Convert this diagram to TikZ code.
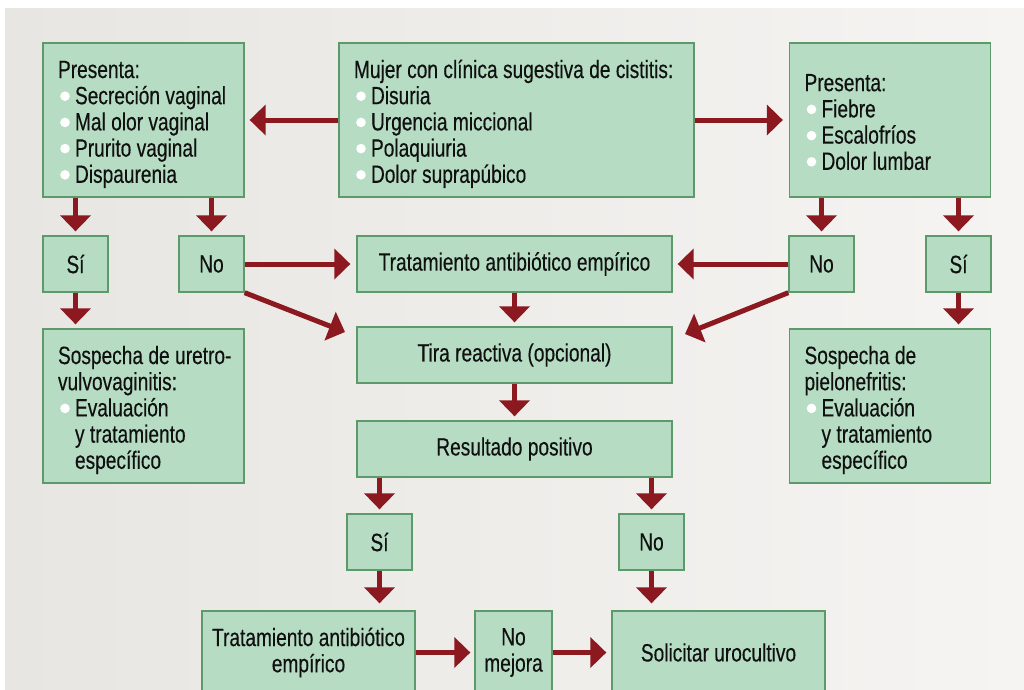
\documentclass[tikz,border=0pt]{standalone}
\usepackage{fontspec}
\setmainfont{Liberation Sans}[FakeStretch=0.765, FakeBold=0.3]
\usepackage{xcolor}
\usepackage{tikz}
\usetikzlibrary{
  arrows.meta,
  positioning
}
\definecolor{boxfill}{HTML}{B6DDC3}
\definecolor{boxline}{HTML}{5C9A6B}
\definecolor{arrowred}{HTML}{8C1820}
\definecolor{bgleft}{HTML}{E7E6E2}
\definecolor{bgright}{HTML}{F5F4F2}
\definecolor{txtcolor}{HTML}{101010}
\newcommand{\blt}{\tikz[baseline=0pt]{\useasboundingbox (0pt,0pt) rectangle (17pt,1pt);
  \fill[white] (7pt,8pt) circle (4.8pt);}}
\newcommand{\topst}{\rule{0pt}{26pt}}
\newcommand{\botst}{\rule[-5pt]{0pt}{5pt}}
\newcommand{\hd}[1]{\mbox{#1}}
\newcommand{\itm}[1]{\mbox{\blt #1}}
\newcommand{\cont}[1]{\mbox{\hspace*{17pt}#1}}

\begin{document}
\begin{tikzpicture}[
  x=1pt, y=-1pt,
  box/.style={draw=boxline, line width=1.3pt, fill=boxfill, text=txtcolor,
    font=\fontsize{25}{26.2}\selectfont, execute at begin node={\spaceskip=5.4pt\relax},
    inner xsep=4pt, inner ysep=0pt, align=center},
  lst/.style={box, text width=#1, inner xsep=15pt, align=left, minimum height=154pt},
  arr/.style={draw=arrowred, line width=5pt, -{Triangle[length=16pt, width=30pt]}, shorten >=4pt},
]
  \useasboundingbox (0,0) rectangle (1024,689);
  \clip (0,0) rectangle (1024,689);
  \fill[white] (0,0) rectangle (1024,689);
  \shade[left color=bgleft, right color=bgright] (5,8) rectangle (1024,689);

  % Top row: symptoms
  \node[lst=171pt] (presl) at (143.5,120)
    {\topst\hd{Presenta:}\\ \itm{Secreción vaginal}\\ \itm{Mal olor vaginal}\\ \itm{Prurito vaginal}\\ \itm{Dispaurenia}\botst};
  \node[lst=325pt] (mujer) at (516.5,120)
    {\topst\hd{Mujer con clínica sugestiva de cistitis:}\\ \itm{Disuria}\\ \itm{Urgencia miccional}\\ \itm{Polaquiuria}\\ \itm{Dolor suprapúbico}\botst};
  \node[lst=171pt] (presr) at (890,120)
    {\topst\hd{Presenta:}\\ \itm{Fiebre}\\ \itm{Escalofríos}\\ \itm{Dolor lumbar}\botst};

  % Second row: answers
  \node[box, minimum width=65pt, minimum height=56pt] (sil) at (75.5,264) {Sí};
  \node[box, minimum width=65pt, minimum height=56pt] (nol) at (211.5,264) {No};
  \node[box, minimum width=315pt, minimum height=56pt] (trat) at (514.5,264) {Tratamiento antibiótico empírico};
  \node[box, minimum width=65pt, minimum height=56pt] (nor) at (821.5,264) {No};
  \node[box, minimum width=65pt, minimum height=56pt] (sir) at (958.5,264) {Sí};

  % Suspicions and dipstick
  \node[lst=171pt] (sospl) at (143.5,406)
    {\topst\hd{Sospecha de uretro-}\\ \hd{vulvovaginitis:}\\ \itm{Evaluación}\\ \cont{y tratamiento}\\ \cont{específico}\botst};
  \node[lst=171pt] (sospr) at (890,406)
    {\topst\hd{Sospecha de}\\ \hd{pielonefritis:}\\ \itm{Evaluación}\\ \cont{y tratamiento}\\ \cont{específico}\botst};
  \node[box, minimum width=315pt, minimum height=56pt] (tira) at (514.5,355) {Tira reactiva (opcional)};
  \node[box, minimum width=315pt, minimum height=56pt] (res) at (514.5,449) {Resultado positivo};

  % Lower part
  \node[box, minimum width=65pt, minimum height=56pt] (sib) at (379.5,542) {Sí};
  \node[box, minimum width=65pt, minimum height=56pt] (nob) at (651.5,542) {No};
  \node[box, minimum width=213pt, minimum height=83pt] (tratb) at (308.5,652.5)
    {Tratamiento antibiótico\\empírico};
  \node[box, minimum width=77pt, minimum height=83pt] (nomej) at (513.5,652.5) {No\\mejora};
  \node[box, minimum width=213pt, minimum height=83pt] (uro) at (718.5,652.5) {Solicitar urocultivo};

  % Free ends of the slanted arrows
  \coordinate (tipl) at (345,332);
  \coordinate (tipr) at (685,334);

  % Arrows
  \draw[arr, shorten >=5pt] (mujer.west) -- (presl.east);
  \draw[arr, shorten >=6pt] (mujer.east) -- (presr.west);
  \draw[arr] (sil |- presl.south) -- (sil.north);
  \draw[arr] (nol |- presl.south) -- (nol.north);
  \draw[arr] (nor |- presr.south) -- (nor.north);
  \draw[arr] (sir |- presr.south) -- (sir.north);
  \draw[arr, shorten >=6pt] (nol.east) -- (trat.west);
  \draw[arr, shorten >=5pt] (nor.west) -- (trat.east);
  \draw[arr, shorten >=0pt] (nol.south east) -- (tipl);
  \draw[arr, shorten >=0pt] (nor.south west) -- (tipr);
  \draw[arr] (sil.south) -- (sil.south |- sospl.north);
  \draw[arr] (sir.south) -- (sir.south |- sospr.north);
  \draw[arr] (trat.south) -- (tira.north);
  \draw[arr] (tira.south) -- (res.north);
  \draw[arr] (sib |- res.south) -- (sib.north);
  \draw[arr] (nob |- res.south) -- (nob.north);
  \draw[arr, shorten >=7pt] (sib.south) -- (sib.south |- tratb.north);
  \draw[arr, shorten >=7pt] (nob.south) -- (nob.south |- uro.north);
  \draw[arr] (tratb.east) -- (nomej.west);
  \draw[arr, shorten >=5pt] (nomej.east) -- (uro.west);
\end{tikzpicture}
\end{document}
